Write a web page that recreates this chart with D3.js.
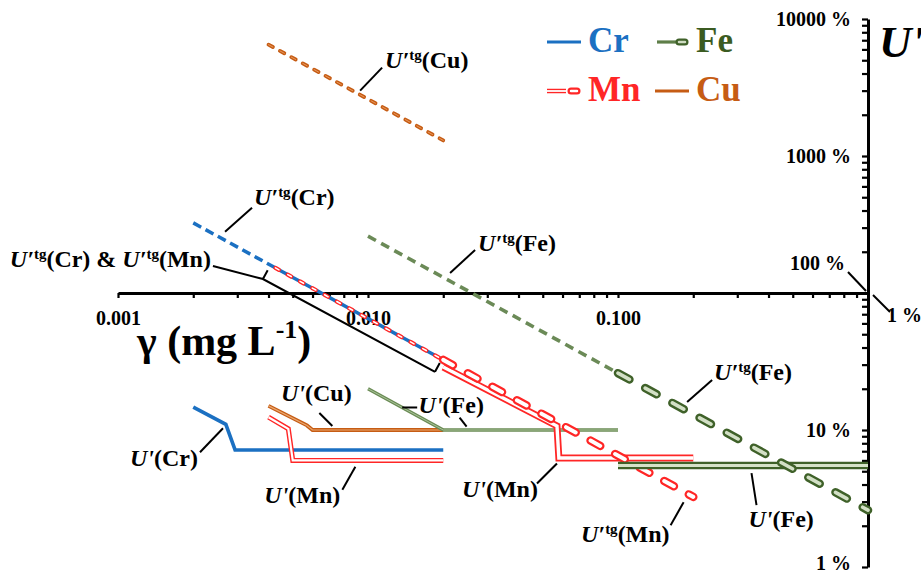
<!DOCTYPE html>
<html>
<head>
<meta charset="utf-8">
<script src="https://cdn.jsdelivr.net/npm/d3@7"></script>
<style>
body{margin:0;background:#fff}
svg text{font-family:"Liberation Serif","Times New Roman",serif;font-weight:bold}
</style>
</head>
<body>
<svg id="chart" width="921" height="575"></svg>
<script>
const CR='#1b70c2', MN='#ff2626', FE='#3f6129', CU='#c65c14'

// axis ticks
const xDecades=[0.001,0.01,0.1]
const xTickLabels=['0.001','0.010','0.100']
const yDecades=[1,10,100,1000,10000]
const yTickLabels=['1 %','10 %','','1000 %','10000 %']

// series: [gamma mg/L, U %]
const cuTg=[[0.004,6500],[0.02,1300]]
const crTg=[[0.002,325],[0.02,32.5]]
const mnTgLow=[[0.004,162.5],[0.02,32.5]]
const mnTgHigh=[[0.02,32.5],[0.2,3.25]]
const feTgLow=[[0.01,260],[0.1,26]]
const feTgHigh=[[0.1,26],[1,2.6]]
const crU=[[0.002,14.7],[0.0027,11],[0.00294,7.15],[0.02,7.15]]
const cuU=[[0.004,15],[0.0057,10.8],[0.006,10],[0.02,10]]
const mnULow=[[0.004,12.4],[0.0048,10.2],[0.005,6],[0.02,6]]
const mnUHigh=[[0.02,28.8],[0.057,10.7],[0.058,6.25],[0.2,6.25]]
const feULow=[[0.01,20],[0.02,10],[0.1,10]]
const feUHigh=[[0.1,5.5],[1,5.5]]

const legendItems=[
  {name:'Cr',color:CR,sym:'line'},
  {name:'Fe',color:FE,sym:'cap'},
  {name:'Mn',color:MN,sym:'cap'},
  {name:'Cu',color:CU,sym:'line'}
]

// annotations: anchor point on the curve in data units, leader vector and text offset in px
const notes=[
  {items:[{el:'Cu',tg:true}],at:[0.0093,3000],d:[22,-23],t:[3,0],anchor:'start'},
  {items:[{el:'Cr',tg:true}],at:[0.00268,280],d:[27,-24],t:[2,-3],anchor:'start'},
  {items:[{el:'Fe',tg:true}],at:[0.0213,140],d:[25,-23],t:[3,1],anchor:'start'},
  {items:[{el:'Cu'}],at:[0.0072,10.7],d:[-13,-13],t:[-3,-12],anchor:'middle'},
  {items:[{el:'Fe'}],at:[0.0248,10.6],d:[-7,-9],t:[-41,-5],anchor:'start'},
  {items:[],at:[0.0137,14.6],d:[15,0],t:[0,0],anchor:'start'},
  {items:[{el:'Cr'}],at:[0.00263,10.3],d:[-23,24],t:[-2,14],anchor:'end'},
  {items:[{el:'Mn'}],at:[0.0089,5.4],d:[-13,23],t:[-2,13],anchor:'end'},
  {items:[{el:'Mn'}],at:[0.057,5.7],d:[-20,20],t:[1,14],anchor:'end'},
  {items:[{el:'Fe',tg:true}],at:[0.189,16],d:[25,-22],t:[2,0],anchor:'start'},
  {items:[{el:'Mn',tg:true}],at:[0.183,2.97],d:[-13,23],t:[-1,17],anchor:'end'},
  {items:[{el:'Fe'}],at:[0.342,4.85],d:[5,32],t:[-8,22],anchor:'start'}
]
const bracketSpan=[[0.0038,126.5],[0.01854,26.6]]

const svg=d3.select('#chart')
svg.append('rect').attr('width',921).attr('height',575).attr('fill','#fff')

const x=d3.scaleLog().domain([0.001,1]).range([118,868])
const y=d3.scaleLog().domain([1,10000]).range([567,19])
const line=d3.line().x(d=>x(d[0])).y(d=>y(d[1]))

// x axis through 100 %
const xTicks=xDecades.flatMap(d=>d3.range(1,10).map(k=>d*k))
const gx=svg.append('g')
  .attr('transform',`translate(0,${y(100)})`)
  .call(d3.axisBottom(x).tickValues(xTicks).tickSize(5).tickSizeOuter(0).tickPadding(13)
    .tickFormat(d=>{const i=xDecades.indexOf(d);return i<0?'':xTickLabels[i]}))
gx.attr('font-size',20)
gx.select('.domain').attr('stroke-width',3)
gx.selectAll('.tick line').attr('stroke-width',2.2)
gx.selectAll('.tick text').attr('fill','#000')

// y axis on the right end
const yTicks=[1,10,100,1000].flatMap(d=>d3.range(1,10).map(k=>d*k)).concat([10000])
const gy=svg.append('g')
  .attr('transform',`translate(${x(1)},0)`)
  .call(d3.axisLeft(y).tickValues(yTicks).tickSize(6).tickSizeOuter(0).tickPadding(11)
    .tickFormat(d=>{const i=yDecades.indexOf(d);return i<0?'':yTickLabels[i]}))
gy.attr('font-size',20)
gy.select('.domain').attr('stroke-width',3)
gy.selectAll('.tick line').attr('stroke-width',2.2)
gy.selectAll('.tick text').attr('fill','#000')
gy.selectAll('.tick').filter(d=>d===1).select('text').attr('dy','0.1em')

// axis corner labels
const cx=x(1), cy=y(100)
svg.append('text').attr('x',cx-23).attr('y',cy-23).attr('text-anchor','end').attr('font-size',20).text('100 %')
svg.append('line').attr('x1',cx-20).attr('y1',cy-21).attr('x2',cx-2).attr('y2',cy-2).attr('stroke','#000').attr('stroke-width',2)
svg.append('text').attr('x',cx+19).attr('y',cy+29).attr('font-size',20).text('1 %')
svg.append('line').attr('x1',cx+5).attr('y1',cy+2).attr('x2',cx+22).attr('y2',cy+19).attr('stroke','#000').attr('stroke-width',2)

// axis titles
const xt=svg.append('text').attr('x',137).attr('y',355).attr('font-size',42)
xt.append('tspan').text('γ (mg L')
xt.append('tspan').attr('font-size',26).attr('dy',-17).text('-1')
xt.append('tspan').attr('dy',17).text(')')
svg.append('text').attr('x',879).attr('y',57).attr('font-size',45).attr('font-style','italic').text("U'")

// line styles, drawn as stacked strokes
const styles={
  crDash:[{c:CR,w:3.5,dash:'9,5'}],
  cuDash:[{c:CU,w:3.8,dash:'5,8',cap:'round'},{c:'#e99a5e',w:1,dash:'5,8',cap:'round'}],
  mnDashThin:[{c:MN,w:4.2,dash:'4,10',cap:'round',off:-7.9},{c:'#fff',w:1.6,dash:'4,10',cap:'round',off:-7.9}],
  mnDashThick:[{c:MN,w:8.5,dash:'11,17',cap:'round'},{c:'#fff',w:4,dash:'11,17',cap:'round'}],
  feDashThin:[{c:'#6b8a57',w:3.6,dash:'9,6'}],
  feDashThick:[{c:FE,w:8.5,dash:'13,18',cap:'round'},{c:'#d3e0c6',w:3.6,dash:'13,18',cap:'round'}],
  crSolid:[{c:CR,w:3.6}],
  cuSolid:[{c:CU,w:3.8},{c:'#eaa870',w:1.2}],
  feSolid:[{c:'#6b8c55',w:3.4},{c:'#a9c29a',w:1}],
  mnDouble:[{c:MN,w:5},{c:'#fff',w:2.2}],
  mnDoubleWide:[{c:MN,w:7},{c:'#fff',w:3.4}],
  feDouble:[{c:FE,w:7.5},{c:'#d5e2c8',w:3}]
}
function drawSeries(data,layers){
  layers.forEach(l=>{
    svg.append('path').datum(data).attr('d',line)
      .attr('fill','none').attr('stroke',l.c).attr('stroke-width',l.w)
      .attr('stroke-dasharray',l.dash||null).attr('stroke-dashoffset',l.off||0)
      .attr('stroke-linecap',l.cap||'butt').attr('stroke-linejoin','miter')
  })
}
const series=[
  [cuTg,'cuDash'],[crTg,'crDash'],[mnTgLow,'mnDashThin'],
  [feTgLow,'feDashThin'],
  [crU,'crSolid'],[cuU,'cuSolid'],[feULow,'feSolid'],[mnULow,'mnDouble'],
  [mnUHigh,'mnDoubleWide'],[mnTgHigh,'mnDashThick'],
  [feUHigh,'feDouble'],[feTgHigh,'feDashThick']
]
series.forEach(s=>drawSeries(s[0],styles[s[1]]))

// labels
function addLabel(sel,items){
  items.forEach((it,i)=>{
    if(i>0) sel.append('tspan').text(' & ')
    sel.append('tspan').attr('font-style','italic').text(it.tg?'U′':"U'")
    if(it.tg){
      sel.append('tspan').attr('font-size',15).attr('dy',-8).text('tg')
      sel.append('tspan').attr('dy',8).text('('+it.el+')')
    }else{
      sel.append('tspan').text('('+it.el+')')
    }
  })
}
const notesG=svg.append('g')
notes.forEach(n=>{
  const p=[x(n.at[0]),y(n.at[1])]
  const e=[p[0]+n.d[0],p[1]+n.d[1]]
  notesG.append('line').attr('x1',p[0]).attr('y1',p[1]).attr('x2',e[0]).attr('y2',e[1])
    .attr('stroke','#000').attr('stroke-width',2)
  if(n.items.length){
    const t=notesG.append('text').attr('x',e[0]+n.t[0]).attr('y',e[1]+n.t[1])
      .attr('font-size',24).attr('text-anchor',n.anchor)
    addLabel(t,n.items)
  }
})

// bracket for the shared Cr / Mn tangent
const b0=[x(bracketSpan[0][0]),y(bracketSpan[0][1])]
const b1=[x(bracketSpan[1][0]),y(bracketSpan[1][1])]
const len=Math.hypot(b1[0]-b0[0],b1[1]-b0[1])
const u=[(b1[0]-b0[0])/len,(b1[1]-b0[1])/len]
const pr=[u[1]*10,-u[0]*10]
const lead=[b0[0]-50,b0[1]-13]
notesG.append('path')
  .attr('d',`M${lead}L${b0}L${b1}M${b0}l${pr}M${b1}l${pr}`)
  .attr('fill','none').attr('stroke','#000').attr('stroke-width',2)
const bt=notesG.append('text').attr('x',lead[0]-2).attr('y',lead[1]+1)
  .attr('font-size',24).attr('text-anchor','end')
addLabel(bt,[{el:'Cr',tg:true},{el:'Mn',tg:true}])

// legend
const colX=[547,655], rowY=[42,91]
legendItems.forEach((it,i)=>{
  const lx=colX[i%2], ly=rowY[Math.floor(i/2)]
  const g=svg.append('g')
  if(it.sym==='line'){
    g.append('line').attr('x1',lx).attr('x2',lx+34).attr('y1',ly).attr('y2',ly)
      .attr('stroke',it.color).attr('stroke-width',3.2)
  }else{
    const light=it.name==='Mn'?'#fff':'#cfdcc2'
    if(it.name==='Mn'){
      g.append('line').attr('x1',lx).attr('x2',lx+19).attr('y1',ly).attr('y2',ly).attr('stroke',MN).attr('stroke-width',4.5)
      g.append('line').attr('x1',lx).attr('x2',lx+19).attr('y1',ly).attr('y2',ly).attr('stroke','#fff').attr('stroke-width',1.8)
    }else{
      g.append('line').attr('x1',lx+2).attr('x2',lx+21).attr('y1',ly).attr('y2',ly).attr('stroke','#5e7e48').attr('stroke-width',3.2)
    }
    g.append('line').attr('x1',lx+24).attr('x2',lx+30).attr('y1',ly).attr('y2',ly)
      .attr('stroke',it.color).attr('stroke-width',7).attr('stroke-linecap','round')
    g.append('line').attr('x1',lx+24).attr('x2',lx+30).attr('y1',ly).attr('y2',ly)
      .attr('stroke',light).attr('stroke-width',2.5).attr('stroke-linecap','round')
  }
  g.append('text').attr('x',lx+41).attr('y',ly+10).attr('font-size',35)
    .attr('fill',it.name==='Fe'?'#3b5b21':it.color).text(it.name)
})
</script>
</body>
</html>
